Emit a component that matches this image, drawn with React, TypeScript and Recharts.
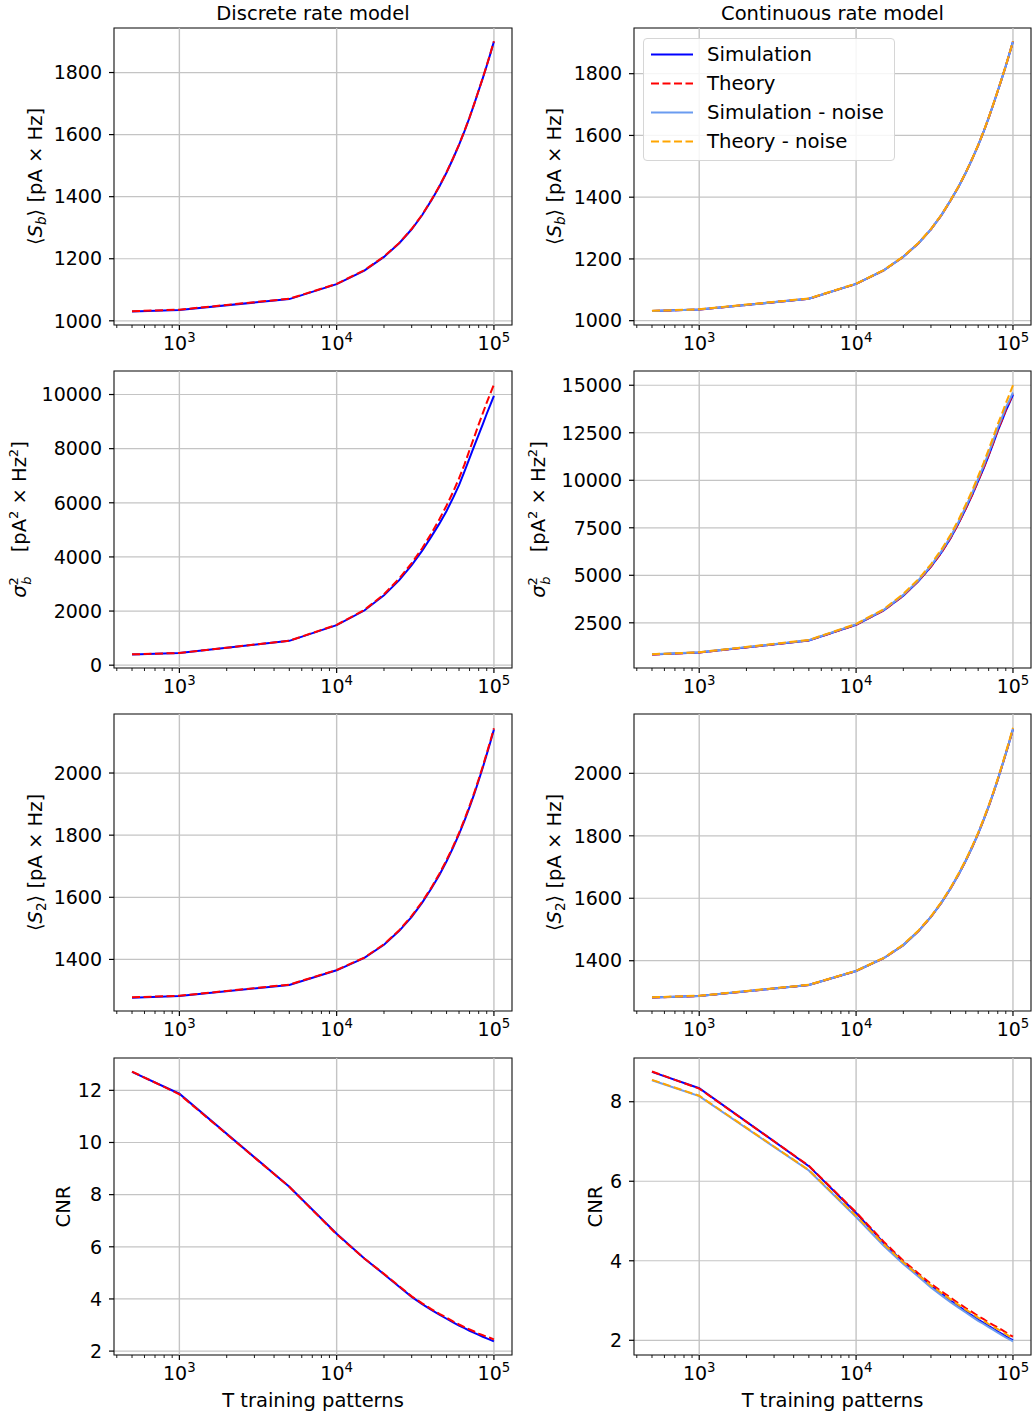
import React from "react";
import {
  LineChart,
  Line,
  XAxis,
  YAxis,
  CartesianGrid,
  ReferenceLine,
  ReferenceArea,
} from "recharts";

// training pattern counts
const T = [
  500, 1000, 5000, 10000, 15000, 20000, 25000, 30000, 35000, 40000, 45000,
  50000, 55000, 60000, 65000, 70000, 75000, 80000, 85000, 90000, 95000, 100000,
];

// discrete rate model
const sbSimDisc = [1030, 1035, 1070, 1118, 1162, 1206, 1250, 1295, 1341, 1388, 1433, 1478, 1523, 1567, 1611, 1655, 1699, 1742, 1782, 1822, 1861, 1900];
const sbThDisc = [1031, 1036, 1071, 1119, 1163, 1207, 1251, 1296, 1342, 1389, 1434, 1479, 1524, 1568, 1612, 1656, 1700, 1743, 1783, 1823, 1862, 1901];
const varSimDisc = [395, 447, 900, 1480, 2020, 2580, 3140, 3700, 4230, 4750, 5230, 5700, 6180, 6650, 7160, 7650, 8100, 8520, 8910, 9290, 9630, 9950];
const varThDisc = [400, 450, 905, 1490, 2040, 2620, 3200, 3770, 4320, 4870, 5390, 5900, 6400, 6900, 7420, 7950, 8430, 8900, 9310, 9700, 10050, 10370];
const s2SimDisc = [1277, 1282, 1318, 1365, 1405, 1447, 1492, 1537, 1583, 1628, 1672, 1716, 1760, 1803, 1847, 1890, 1933, 1976, 2018, 2060, 2100, 2140];
const s2ThDisc = [1278, 1283, 1319, 1366, 1406, 1449, 1494, 1540, 1586, 1631, 1676, 1720, 1764, 1807, 1851, 1894, 1937, 1980, 2022, 2064, 2104, 2144];
const cnrSimDisc = [12.71, 11.87, 8.3, 6.5, 5.55, 4.95, 4.47, 4.08, 3.8, 3.58, 3.4, 3.24, 3.1, 2.98, 2.88, 2.78, 2.7, 2.62, 2.55, 2.49, 2.43, 2.37];
const cnrThDisc = [12.72, 11.85, 8.3, 6.48, 5.55, 4.96, 4.49, 4.1, 3.83, 3.61, 3.43, 3.28, 3.14, 3.02, 2.92, 2.83, 2.75, 2.67, 2.61, 2.55, 2.5, 2.45];

// continuous rate model
const sbSimCont = [1031, 1036, 1071, 1119, 1163, 1207, 1251, 1296, 1342, 1389, 1434, 1479, 1524, 1568, 1612, 1657, 1701, 1744, 1785, 1825, 1865, 1904];
const sbThCont = [1031, 1036, 1071, 1119, 1163, 1207, 1251, 1296, 1342, 1389, 1434, 1479, 1524, 1568, 1612, 1657, 1701, 1744, 1785, 1825, 1865, 1904];
const sbSimNoiseCont = [1031, 1036, 1071, 1119, 1163, 1207, 1251, 1296, 1342, 1389, 1434, 1479, 1524, 1568, 1612, 1657, 1701, 1744, 1785, 1825, 1865, 1904];
const sbThNoiseCont = [1032, 1037, 1072, 1120, 1164, 1208, 1252, 1297, 1343, 1390, 1435, 1480, 1525, 1569, 1613, 1658, 1702, 1745, 1786, 1826, 1866, 1905];
const varSimCont = [830, 935, 1570, 2400, 3150, 3930, 4700, 5450, 6200, 6950, 7730, 8500, 9230, 9950, 10630, 11300, 11950, 12600, 13130, 13650, 14080, 14500];
const varThCont = [830, 935, 1570, 2400, 3150, 3930, 4700, 5450, 6200, 6960, 7740, 8510, 9240, 9970, 10650, 11330, 11990, 12640, 13170, 13700, 14130, 14550];
const varSimNoiseCont = [840, 945, 1585, 2420, 3180, 3970, 4740, 5510, 6270, 7030, 7820, 8600, 9340, 10070, 10760, 11440, 12100, 12760, 13290, 13820, 14220, 14620];
const varThNoiseCont = [850, 950, 1600, 2440, 3220, 4020, 4800, 5580, 6360, 7130, 7930, 8720, 9470, 10220, 10920, 11620, 12290, 12950, 13500, 14050, 14530, 15000];
const s2SimCont = [1282, 1287, 1322, 1367, 1408, 1450, 1495, 1540, 1586, 1631, 1676, 1720, 1764, 1807, 1851, 1894, 1937, 1980, 2022, 2063, 2102, 2141];
const s2ThCont = [1282, 1287, 1322, 1367, 1408, 1450, 1495, 1540, 1586, 1631, 1676, 1720, 1764, 1807, 1851, 1894, 1937, 1980, 2022, 2063, 2102, 2142];
const s2SimNoiseCont = [1282, 1287, 1322, 1367, 1408, 1450, 1495, 1540, 1586, 1631, 1676, 1720, 1764, 1807, 1851, 1894, 1937, 1980, 2022, 2063, 2102, 2142];
const s2ThNoiseCont = [1283, 1288, 1323, 1368, 1409, 1452, 1497, 1542, 1588, 1634, 1679, 1723, 1767, 1810, 1854, 1897, 1940, 1983, 2025, 2067, 2107, 2146];
const cnrSimCont = [8.75, 8.34, 6.38, 5.2, 4.45, 3.97, 3.64, 3.37, 3.17, 3.0, 2.86, 2.73, 2.62, 2.52, 2.44, 2.36, 2.29, 2.22, 2.16, 2.1, 2.05, 2.0];
const cnrThCont = [8.76, 8.33, 6.39, 5.22, 4.48, 4.0, 3.68, 3.42, 3.23, 3.07, 2.93, 2.81, 2.71, 2.61, 2.53, 2.45, 2.38, 2.32, 2.26, 2.2, 2.14, 2.09];
const cnrSimNoiseCont = [8.54, 8.14, 6.27, 5.1, 4.38, 3.92, 3.6, 3.33, 3.13, 2.96, 2.82, 2.7, 2.59, 2.49, 2.41, 2.33, 2.26, 2.19, 2.13, 2.07, 2.02, 1.97];
const cnrThNoiseCont = [8.55, 8.15, 6.28, 5.13, 4.42, 3.96, 3.64, 3.38, 3.19, 3.03, 2.89, 2.77, 2.67, 2.57, 2.49, 2.41, 2.34, 2.28, 2.22, 2.16, 2.1, 2.05];

// tick labels
const xTicks = [
  400, 500, 600, 700, 800, 900, 1000, 2000, 3000, 4000, 5000, 6000, 7000, 8000, 9000,
  10000, 20000, 30000, 40000, 50000, 60000, 70000, 80000, 90000, 100000,
];
const xMajor = [1000, 10000, 100000];
const sbTicks = [1000, 1200, 1400, 1600, 1800];
const varDiscTicks = [0, 2000, 4000, 6000, 8000, 10000];
const varContTicks = [2500, 5000, 7500, 10000, 12500, 15000];
const s2Ticks = [1400, 1600, 1800, 2000];
const cnrDiscTicks = [2, 4, 6, 8, 10, 12];
const cnrContTicks = [2, 4, 6, 8];

const FONT = "'DejaVu Sans', 'Liberation Sans', sans-serif";
const X_DOMAIN: [number, number] = [384, 130300];
const BLUE = "#0000ff";
const RED = "#ff0000";
const LIGHT = "#6a9bf0";
const ORANGE = "#ffa500";

const rows = (a: number[], b: number[], c?: number[], d?: number[]) =>
  T.map((t, i) => ({
    T: t,
    sim: a[i],
    theory: b[i],
    simNoise: c ? c[i] : undefined,
    theoryNoise: d ? d[i] : undefined,
  }));

const XTick = (props: any) => {
  const { x, y, payload } = props;
  const e = Math.log10(payload.value);
  const major = Math.abs(e - Math.round(e)) < 1e-6;
  return (
    <g>
      <line x1={x} x2={x} y1={y} y2={y + (major ? 5 : 3)} stroke="#000" strokeWidth={major ? 1.2 : 0.9} />
      {major && (
        <text x={x} y={y + 25} textAnchor="middle" fontSize={19} fontFamily={FONT} fill="#000">
          10
          <tspan dy={-8} fontSize={13.3}>
            {Math.round(e)}
          </tspan>
        </text>
      )}
    </g>
  );
};

const YLabel = (props: any) => {
  const { viewBox, kind, bx } = props;
  const cy = viewBox ? viewBox.y + viewBox.height / 2 : 158;
  let content: React.ReactNode = null;
  if (kind === "sb" || kind === "s2") {
    content = (
      <>
        <tspan>⟨</tspan>
        <tspan fontStyle={"italic"}>S</tspan>
        <tspan fontSize={13.5} fontStyle={kind === "sb" ? "italic" : "normal"} dy={4}>
          {kind === "sb" ? "b" : "2"}
        </tspan>
        <tspan dy={-4}>{"⟩\u00a0[pA\u00a0×\u00a0Hz]"}</tspan>
      </>
    );
  } else if (kind === "var") {
    content = (
      <>
        <tspan fontStyle="italic">σ</tspan>
        <tspan fontSize={13} dy={-8}>2</tspan>
        <tspan fontSize={13} fontStyle="italic" dx={-7.5} dy={13}>b</tspan>
        <tspan dx={24} dy={-5}>[pA</tspan>
        <tspan fontSize={13} dy={-8}>2</tspan>
        <tspan dy={8}>{"\u00a0×\u00a0Hz"}</tspan>
        <tspan fontSize={13} dy={-8}>2</tspan>
        <tspan dy={8}>]</tspan>
      </>
    );
  } else {
    content = <tspan>CNR</tspan>;
  }
  return (
    <text
      transform={`translate(${bx},${cy}) rotate(-90)`}
      textAnchor="middle"
      fontSize={19.5}
      fontFamily={FONT}
      fill="#000"
    >
      {content}
    </text>
  );
};

interface PanelProps {
  left: number;
  top: number;
  width: number;
  rightMargin: number;
  data: any[];
  yDomain: [number, number];
  yTicks: number[];
  kind: string;
  labelX: number;
  noise?: boolean;
}

const PLOT_H = 297;

const Panel = ({ left, top, width, rightMargin, data, yDomain, yTicks, kind, labelX, noise }: PanelProps) => (
  <div style={{ position: "absolute", left, top: top - 10 }}>
    <LineChart
      width={width}
      height={PLOT_H + 50}
      data={data}
      margin={{ top: 10, right: rightMargin, left: 0, bottom: 0 }}
    >
      <CartesianGrid vertical={false} stroke="#c4c4c4" strokeWidth={1.2} />
      {xMajor.map((v) => (
        <ReferenceLine key={v} x={v} stroke="#c4c4c4" strokeWidth={1.4} />
      ))}
      <XAxis
        dataKey="T"
        type="number"
        scale="log"
        domain={X_DOMAIN}
        ticks={xTicks}
        interval={0}
        allowDataOverflow
        height={40}
        axisLine={false}
        tickLine={false}
        tickSize={0}
        tickMargin={0}
        tick={<XTick />}
      />
      <YAxis
        type="number"
        domain={yDomain}
        ticks={yTicks}
        interval={0}
        allowDataOverflow
        width={114}
        axisLine={false}
        tickSize={5}
        tickMargin={7}
        tickLine={{ stroke: "#000", strokeWidth: 1.2 }}
        tick={{ fontSize: 19, fill: "#000", fontFamily: FONT }}
        label={<YLabel kind={kind} bx={labelX} />}
      />
      <Line type="linear" dataKey="sim" stroke={BLUE} strokeWidth={2} dot={false} isAnimationActive={false} />
      <Line
        type="linear"
        dataKey="theory"
        stroke={RED}
        strokeWidth={2}
        strokeDasharray="8 3.5"
        dot={false}
        isAnimationActive={false}
      />
      {noise && (
        <Line type="linear" dataKey="simNoise" stroke={LIGHT} strokeWidth={2} dot={false} isAnimationActive={false} />
      )}
      {noise && (
        <Line
          type="linear"
          dataKey="theoryNoise"
          stroke={ORANGE}
          strokeWidth={2}
          strokeDasharray="8 3.5"
          dot={false}
          isAnimationActive={false}
        />
      )}
      <ReferenceArea
        x1={X_DOMAIN[0]}
        x2={X_DOMAIN[1]}
        y1={yDomain[0]}
        y2={yDomain[1]}
        fill="none"
        fillOpacity={0}
        stroke="#222"
        strokeWidth={1.2}
        ifOverflow="visible"
      />
    </LineChart>
  </div>
);

const legendItems = [
  { name: "Simulation", color: BLUE, dash: undefined },
  { name: "Theory", color: RED, dash: "8 3.5" },
  { name: "Simulation - noise", color: LIGHT, dash: undefined },
  { name: "Theory - noise", color: ORANGE, dash: "8 3.5" },
];

const LegendBox = () => (
  <div
    style={{
      position: "absolute",
      left: 643,
      top: 38,
      width: 250,
      height: 121,
      border: "1px solid #d6d6d6",
      borderRadius: 4,
      background: "rgba(255,255,255,0.85)",
      fontFamily: FONT,
      fontSize: 19.7,
    }}
  >
    {legendItems.map((it, i) => (
      <div key={it.name} style={{ position: "absolute", left: 0, top: 1 + i * 29, height: 29, width: 250 }}>
        <svg width={52} height={29} style={{ position: "absolute", left: 0, top: 0 }}>
          <line x1={7} x2={49} y1={14.5} y2={14.5} stroke={it.color} strokeWidth={2} strokeDasharray={it.dash} />
        </svg>
        <span style={{ position: "absolute", left: 63, top: 1, lineHeight: "27px", whiteSpace: "nowrap" }}>
          {it.name}
        </span>
      </div>
    ))}
  </div>
);

const ROW_TOPS = [28, 371, 714, 1058];

const App = () => {
  const L = { left: 0, width: 520, rightMargin: 8 };
  const R = { left: 520, width: 513, rightMargin: 2 };
  return (
    <div style={{ position: "absolute", left: 0, top: 0, width: 1033, height: 1416, background: "#fff" }}>
      <Panel {...L} top={ROW_TOPS[0]} data={rows(sbSimDisc, sbThDisc)} yDomain={[986.5, 1943.5]} yTicks={sbTicks} kind="sb" labelX={42} />
      <Panel
        {...R}
        top={ROW_TOPS[0]}
        data={rows(sbSimCont, sbThCont, sbSimNoiseCont, sbThNoiseCont)}
        yDomain={[986, 1948]}
        yTicks={sbTicks}
        kind="sb"
        labelX={40.5}
        noise
      />
      <Panel {...L} top={ROW_TOPS[1]} data={rows(varSimDisc, varThDisc)} yDomain={[-104, 10869]} yTicks={varDiscTicks} kind="var" labelX={26} />
      <Panel
        {...R}
        top={ROW_TOPS[1]}
        data={rows(varSimCont, varThCont, varSimNoiseCont, varThNoiseCont)}
        yDomain={[122, 15750]}
        yTicks={varContTicks}
        kind="var"
        labelX={25}
        noise
      />
      <Panel {...L} top={ROW_TOPS[2]} data={rows(s2SimDisc, s2ThDisc)} yDomain={[1234, 2190]} yTicks={s2Ticks} kind="s2" labelX={42} />
      <Panel
        {...R}
        top={ROW_TOPS[2]}
        data={rows(s2SimCont, s2ThCont, s2SimNoiseCont, s2ThNoiseCont)}
        yDomain={[1239, 2190]}
        yTicks={s2Ticks}
        kind="s2"
        labelX={40.5}
        noise
      />
      <Panel {...L} top={ROW_TOPS[3]} data={rows(cnrSimDisc, cnrThDisc)} yDomain={[1.85, 13.24]} yTicks={cnrDiscTicks} kind="cnr" labelX={69.5} />
      <Panel
        {...R}
        top={ROW_TOPS[3]}
        data={rows(cnrSimCont, cnrThCont, cnrSimNoiseCont, cnrThNoiseCont)}
        yDomain={[1.63, 9.1]}
        yTicks={cnrContTicks}
        kind="cnr"
        labelX={81.5}
        noise
      />
      <svg width={1033} height={1416} style={{ position: "absolute", left: 0, top: 0, pointerEvents: "none" }}>
        <text x={313} y={19.5} textAnchor="middle" fontSize={19.5} fontFamily={FONT} fill="#000">
          Discrete rate model
        </text>
        <text x={832.5} y={19.5} textAnchor="middle" fontSize={19.5} fontFamily={FONT} fill="#000">
          Continuous rate model
        </text>
        <text x={313} y={1407} textAnchor="middle" fontSize={19.5} fontFamily={FONT} fill="#000">
          T training patterns
        </text>
        <text x={832.5} y={1407} textAnchor="middle" fontSize={19.5} fontFamily={FONT} fill="#000">
          T training patterns
        </text>
      </svg>
      <LegendBox />
    </div>
  );
};

export default App;
